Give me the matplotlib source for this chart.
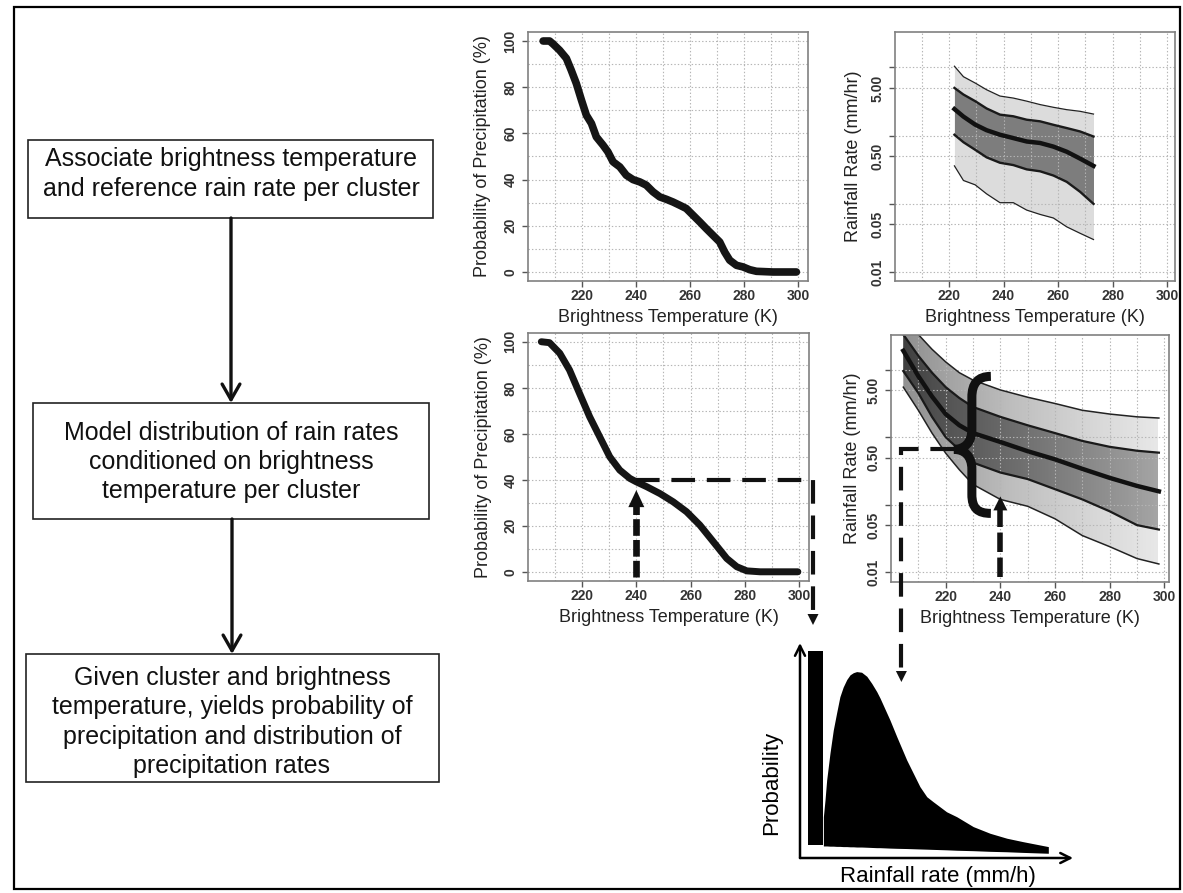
import numpy as np
import matplotlib
matplotlib.use("Agg")
import matplotlib.pyplot as plt
from matplotlib.patches import Rectangle, Polygon, PathPatch
from matplotlib.path import Path
from matplotlib.ticker import NullLocator

plt.rcParams['font.family'] = ['Liberation Sans', 'DejaVu Sans']
plt.rcParams['lines.scale_dashes'] = False

# ---------------- data ----------------
# Panel 1: empirical probability of precipitation
bt_emp = [205.6, 208, 209.3, 211.7, 214.2, 216, 217.9, 219.8, 221.6, 223.5, 225.3, 227.8,
          229.6, 231.5, 234, 236.4, 238.9, 241.4, 243.8, 246.3, 248.8, 251.2, 253.7, 256.2,
          258.6, 261.1, 263.6, 266, 268.5, 271, 272.8, 274.7, 277.2, 279.6, 282.1, 284.6,
          290.7, 299.4]
pop_emp = [100, 100, 98.7, 96, 92.5, 87.4, 81.6, 74.4, 67.9, 64.3, 58.5, 54.9,
           52, 47.7, 45.5, 41.9, 40, 39, 37.6, 34.7, 32.5, 31.5, 30.3, 28.9,
           27.5, 24.6, 21.7, 18.8, 15.9, 13, 8.7, 5.1, 2.9, 2.2, 1, 0.3,
           0, 0]

# Panel 2: empirical rain-rate quantiles
bt_q = [222, 225.3, 229.6, 233.8, 238.7, 243.6, 248.5, 253.4, 258.3, 263.2, 268.1, 273]
q_hi_out = [10.4, 7.3, 5.9, 4.7, 3.8, 3.55, 3.2, 2.85, 2.6, 2.4, 2.27, 2.07]
q_hi_in = [5.0, 4.0, 3.2, 2.5, 2.03, 1.92, 1.71, 1.62, 1.44, 1.29, 1.15, 0.97]
q_med = [2.45, 1.9, 1.45, 1.2, 1.03, 0.92, 0.82, 0.78, 0.69, 0.58, 0.46, 0.36]
q_lo_in = [1.03, 0.8, 0.62, 0.48, 0.40, 0.37, 0.32, 0.30, 0.26, 0.21, 0.15, 0.10]
q_lo_out = [0.36, 0.22, 0.19, 0.14, 0.104, 0.104, 0.081, 0.07, 0.062, 0.046, 0.037, 0.030]

# Panel 3: modelled probability of precipitation
bt_mod = [205, 208, 211.8, 215.4, 219.1, 222.8, 226.5, 230.2, 233.9, 237.6, 240, 243.8,
          248.7, 253.6, 258.5, 263.4, 268.4, 273.3, 277, 280.7, 285.6, 290.5, 299.5]
pop_mod = [100, 99.6, 95, 87.7, 77.5, 67.4, 58.7, 50, 44.2, 40.6, 39.1, 37,
           34, 30.4, 26.1, 20.3, 13, 5.8, 2.2, 0.4, 0, 0, 0]

# Panel 4: modelled rain-rate quantiles
bt_m = [204.5, 210, 215, 220, 225, 230, 240, 250, 260, 270, 280, 290, 298]
m_q1 = [60, 33, 20, 13, 9, 7, 5.0, 3.9, 3.15, 2.5, 2.2, 2.0, 1.92]
m_q2 = [33, 16, 9, 5.5, 3.8, 2.8, 2.0, 1.5, 1.15, 0.88, 0.72, 0.63, 0.59]
m_q3 = [19, 8, 4.0, 2.2, 1.5, 1.15, 0.85, 0.62, 0.47, 0.34, 0.25, 0.19, 0.158]
m_q4 = [9.5, 4.5, 2.0, 1.0, 0.65, 0.42, 0.30, 0.24, 0.17, 0.12, 0.08, 0.05, 0.043]
m_q5 = [5.5, 2.5, 1.15, 0.58, 0.33, 0.2, 0.12, 0.095, 0.062, 0.035, 0.024, 0.016, 0.0133]

# Schematic distribution (axes-fraction units of the sketch)
spike_rate = [0.0565]
spike_prob = [0.963]
spike_base = [0.06]
dist_rate = [0.085, 0.091, 0.097, 0.109, 0.121, 0.133, 0.145, 0.157, 0.170, 0.182, 0.194,
             0.206, 0.224, 0.243, 0.261, 0.279, 0.291, 0.327, 0.352, 0.388, 0.412, 0.436,
             0.461, 0.484, 0.533, 0.570, 0.630, 0.691, 0.752, 0.811, 0.903]
dist_prob = [0.192, 0.270, 0.363, 0.488, 0.595, 0.674, 0.750, 0.795, 0.830, 0.852, 0.862,
             0.867, 0.864, 0.845, 0.812, 0.774, 0.744, 0.642, 0.564, 0.456, 0.394, 0.332,
             0.285, 0.262, 0.215, 0.192, 0.146, 0.115, 0.092, 0.076, 0.053]
dist_base = [0.056, 0.056, 0.056, 0.055, 0.055, 0.054, 0.054, 0.053, 0.053, 0.052, 0.052,
             0.051, 0.051, 0.050, 0.049, 0.048, 0.048, 0.046, 0.045, 0.044, 0.043, 0.042,
             0.041, 0.040, 0.038, 0.036, 0.034, 0.031, 0.029, 0.026, 0.022]

x_ticks = [220, 240, 260, 280, 300]
x_grid = list(range(210, 301, 10))
pop_ticks = [0, 20, 40, 60, 80, 100]
pop_grid = list(range(0, 101, 10))
rr_ticks = [0.01, 0.05, 0.1, 0.5, 1, 5, 10]
rr_labels = ['0.01', '0.05', '', '0.50', '', '5.00', '']

box_texts = ["Associate brightness temperature\nand reference rain rate per cluster",
             "Model distribution of rain rates\nconditioned on brightness\ntemperature per cluster",
             "Given cluster and brightness\ntemperature, yields probability of\nprecipitation and distribution of\nprecipitation rates"]

# ---------------- figure ----------------
W, H = 1183, 893
fig = plt.figure(figsize=(W / 100, H / 100), dpi=100)


def add_ax(l, t, r, b, **kw):
    return fig.add_axes([l / W, 1 - b / H, (r - l) / W, (b - t) / H], **kw)


def style(ax, xlim, ylim, ylabel, ylab_x, xlab_y, log=False):
    if log:
        ax.set_yscale('log')
        ax.set_yticks(rr_ticks)
        ax.set_yticklabels(rr_labels)
        ax.yaxis.set_minor_locator(NullLocator())
    else:
        ax.set_yticks(pop_ticks)
        ax.set_yticks(pop_grid, minor=True)
    ax.set_xlim(*xlim)
    ax.set_ylim(*ylim)
    ax.set_xticks(x_ticks)
    ax.set_xticks(x_grid, minor=True)
    ax.grid(True, which='both', color='#b5b5b5', linestyle=(0, (1, 1.5)), linewidth=0.8)
    ax.set_axisbelow('line')
    for s in ax.spines.values():
        s.set_color('#808080')
        s.set_linewidth(1.2)
    ax.tick_params(which='major', direction='out', length=4.5, width=1, color='#555555',
                   labelsize=10, labelcolor='#333333')
    ax.tick_params(which='minor', length=0)
    ax.tick_params(axis='x', pad=1.5)
    ax.tick_params(axis='y', pad=3, labelrotation=90)
    for lab in ax.get_xticklabels() + ax.get_yticklabels():
        lab.set_fontweight('bold')
    for lab in ax.get_yticklabels():
        lab.set_va('center')
    ax.set_xlabel('Brightness Temperature (K)', fontsize=13, color='#222222')
    ax.set_ylabel(ylabel, fontsize=13, color='#222222')
    ax.xaxis.set_label_coords(0.5, xlab_y)
    ax.xaxis.label.set_va('center')
    ax.yaxis.set_label_coords(ylab_x, 0.5)
    ax.yaxis.label.set_va('center')


# Panel 1
ax1 = add_ax(528, 32, 808, 281)
ax1.plot(bt_emp, pop_emp, color='#151515', lw=5.5, solid_capstyle='round', solid_joinstyle='round')
style(ax1, (200, 303.7), (-3.9, 103.9), 'Probability of Precipitation (%)', -0.161, -0.145)

# Panel 2
ax2 = add_ax(895, 32, 1175, 281)
ax2.fill_between(bt_q, q_lo_out, q_hi_out, color='#dcdcdc', lw=0)
ax2.fill_between(bt_q, q_lo_in, q_hi_in, color='#7d7d7d', lw=0)
ax2.plot(bt_q, q_hi_out, color='#222222', lw=0.9)
ax2.plot(bt_q, q_lo_out, color='#222222', lw=0.9)
ax2.plot(bt_q, q_hi_in, color='#1a1a1a', lw=1.7)
ax2.plot(bt_q, q_lo_in, color='#1a1a1a', lw=1.7)
ax2.plot(bt_q, q_med, color='#111111', lw=3.2)
style(ax2, (200.2, 302.9), (0.0074, 33), 'Rainfall Rate (mm/hr)', -0.15, -0.145, log=True)

# Panel 4
ax4 = add_ax(891, 335, 1169, 582)
ax4.set_yscale('log')
outer = ax4.fill_between(bt_m, m_q5, m_q1, color='none', lw=0)
inner = ax4.fill_between(bt_m, m_q4, m_q2, color='none', lw=0)
ext = [bt_m[0], bt_m[-1], 0.0072, 40]
g_outer = np.linspace(0.52, 0.17, 256).reshape(1, -1)
g_inner = np.linspace(0.80, 0.45, 256).reshape(1, -1)
for grad, poly in ((g_outer, outer), (g_inner, inner)):
    im = ax4.imshow(grad, extent=ext, aspect='auto', cmap='Greys', vmin=0, vmax=1,
                    origin='lower', zorder=1, interpolation='bilinear')
    im.set_clip_path(poly.get_paths()[0], ax4.transData)
ax4.plot(bt_m, m_q1, color='#222222', lw=1.1)
ax4.plot(bt_m, m_q5, color='#222222', lw=1.1)
ax4.plot(bt_m, m_q2, color='#1a1a1a', lw=1.6)
ax4.plot(bt_m, m_q4, color='#1a1a1a', lw=1.6)
ax4.plot(bt_m, m_q3, color='#111111', lw=3.2)
style(ax4, (200, 301.7), (0.0072, 32.5), 'Rainfall Rate (mm/hr)', -0.14, -0.146, log=True)

# Panel 3
ax3 = add_ax(528, 333, 809, 581)
ax3.plot(bt_mod, pop_mod, color='#151515', lw=5.0, solid_capstyle='round', solid_joinstyle='round')
style(ax3, (200.1, 303.6), (-4.0, 103.8), 'Probability of Precipitation (%)', -0.16, -0.149)

# Schematic distribution
sk = add_ax(800, 643, 1075, 858)
sk.set_xlim(0, 1)
sk.set_ylim(0, 1)
sk.axis('off')
sk.bar(spike_rate, [p - b for p, b in zip(spike_prob, spike_base)], bottom=spike_base,
       width=0.055, color='black')
sk.fill_between(dist_rate, dist_base, dist_prob, color='black', lw=0)
arrow_kw = dict(arrowstyle='->', lw=1.8, mutation_scale=18, shrinkA=0, shrinkB=0, color='black')
sk.annotate('', xy=(0, 1.0), xytext=(0, 0), xycoords='axes fraction', arrowprops=arrow_kw)
sk.annotate('', xy=(0.993, 0), xytext=(0, 0), xycoords='axes fraction', arrowprops=arrow_kw)
sk.text(-0.102, 0.349, 'Probability', rotation=90, ha='center', va='center', fontsize=16,
        transform=sk.transAxes)
sk.text(0.502, -0.088, 'Rainfall rate (mm/h)', ha='center', va='center', fontsize=16,
        transform=sk.transAxes)

# ---------------- overlay (flowchart + annotations) ----------------
ov = fig.add_axes([0, 0, 1, 1], zorder=10)
ov.set_xlim(0, W)
ov.set_ylim(H, 0)
ov.axis('off')
ov.patch.set_alpha(0)

ov.add_patch(Rectangle((14, 7), 1166, 882, fill=False, lw=1.6, ec='black'))

boxes = [(28, 140, 433, 218), (33, 403, 429, 519), (26, 654, 439, 782)]
centers = [(231, 174), (231, 462), (232, 722)]
for (l, t, r, b), (cx, cy), txt in zip(boxes, centers, box_texts):
    ov.add_patch(Rectangle((l, t), r - l, b - t, fill=False, lw=1.2, ec='#222222'))
    ov.text(cx, cy, txt, ha='center', va='center', fontsize=18, linespacing=1.28, color='#111111')

fa = dict(arrowstyle='->,head_length=0.7,head_width=0.4', lw=2.4, mutation_scale=16,
          shrinkA=0, shrinkB=0, color='#111111')
ov.annotate('', xy=(231, 403), xytext=(231, 218), arrowprops=fa)
ov.annotate('', xy=(232, 654), xytext=(232, 519), arrowprops=fa)


def to_ov(ax, x, y):
    dx, dy = ax.transData.transform((x, y))
    return dx, H - dy


def head(x, ytip, w, h, up=True):
    yb = ytip + h if up else ytip - h
    ov.add_patch(Polygon([(x - w / 2, yb), (x + w / 2, yb), (x, ytip)], closed=True,
                         color='#111111', lw=0))


# Panel 3: arrow up at 240 K, dashed line along 40 % to the distribution sketch
x240, y_tip = to_ov(ax3, 240, 35.5)
_, y_bot = to_ov(ax3, 240, -2.2)
ov.plot([x240, x240], [y_bot, y_tip + 16], color='#111111', lw=4.8, dashes=[12, 3],
        solid_capstyle='butt', dash_capstyle='butt')
head(x240, y_tip, 16, 17)
hx0, hy = to_ov(ax3, 240, 40)
ov.plot([hx0, 813, 813], [hy, hy, 614], color='#111111', lw=3, dashes=[17, 8.5],
        dash_capstyle='butt', dash_joinstyle='miter')
head(813, 625, 11, 11, up=False)

# Panel 4: arrow up at 240 K
x240b, y_tipb = to_ov(ax4, 240, 0.133)
_, y_botb = to_ov(ax4, 240, 0.0084)
ov.plot([x240b, x240b], [y_botb, y_tipb + 13], color='#111111', lw=4.0, dashes=[14, 4],
        dash_capstyle='butt')
head(x240b, y_tipb, 14, 14)

# Panel 4: brace and dashed line to sketch
tx, ty = to_ov(ax4, 223, 0.66)
cx, _ = to_ov(ax4, 203.8, 0.66)
ov.plot([tx, cx, cx], [ty, ty, 672], color='#111111', lw=3, dashes=[17, 8.5],
        dash_capstyle='butt', dash_joinstyle='miter')
head(cx, 682, 11, 11, up=False)

verts = [(tx + 37, ty - 73),
         (tx + 24, ty - 73), (tx + 18, ty - 66), (tx + 18, ty - 52),
         (tx + 18, ty - 20),
         (tx + 18, ty - 6), (tx + 10, ty), (tx, ty),
         (tx + 10, ty), (tx + 18, ty + 6), (tx + 18, ty + 20),
         (tx + 18, ty + 45),
         (tx + 18, ty + 59), (tx + 24, ty + 64), (tx + 37, ty + 64)]
codes = [Path.MOVETO, Path.CURVE4, Path.CURVE4, Path.CURVE4, Path.LINETO,
         Path.CURVE4, Path.CURVE4, Path.CURVE4, Path.CURVE4, Path.CURVE4, Path.CURVE4,
         Path.LINETO, Path.CURVE4, Path.CURVE4, Path.CURVE4]
ov.add_patch(PathPatch(Path(verts, codes), fill=False, lw=6.5, ec='#111111', capstyle='butt'))

fig.savefig('out.png', dpi=100)
